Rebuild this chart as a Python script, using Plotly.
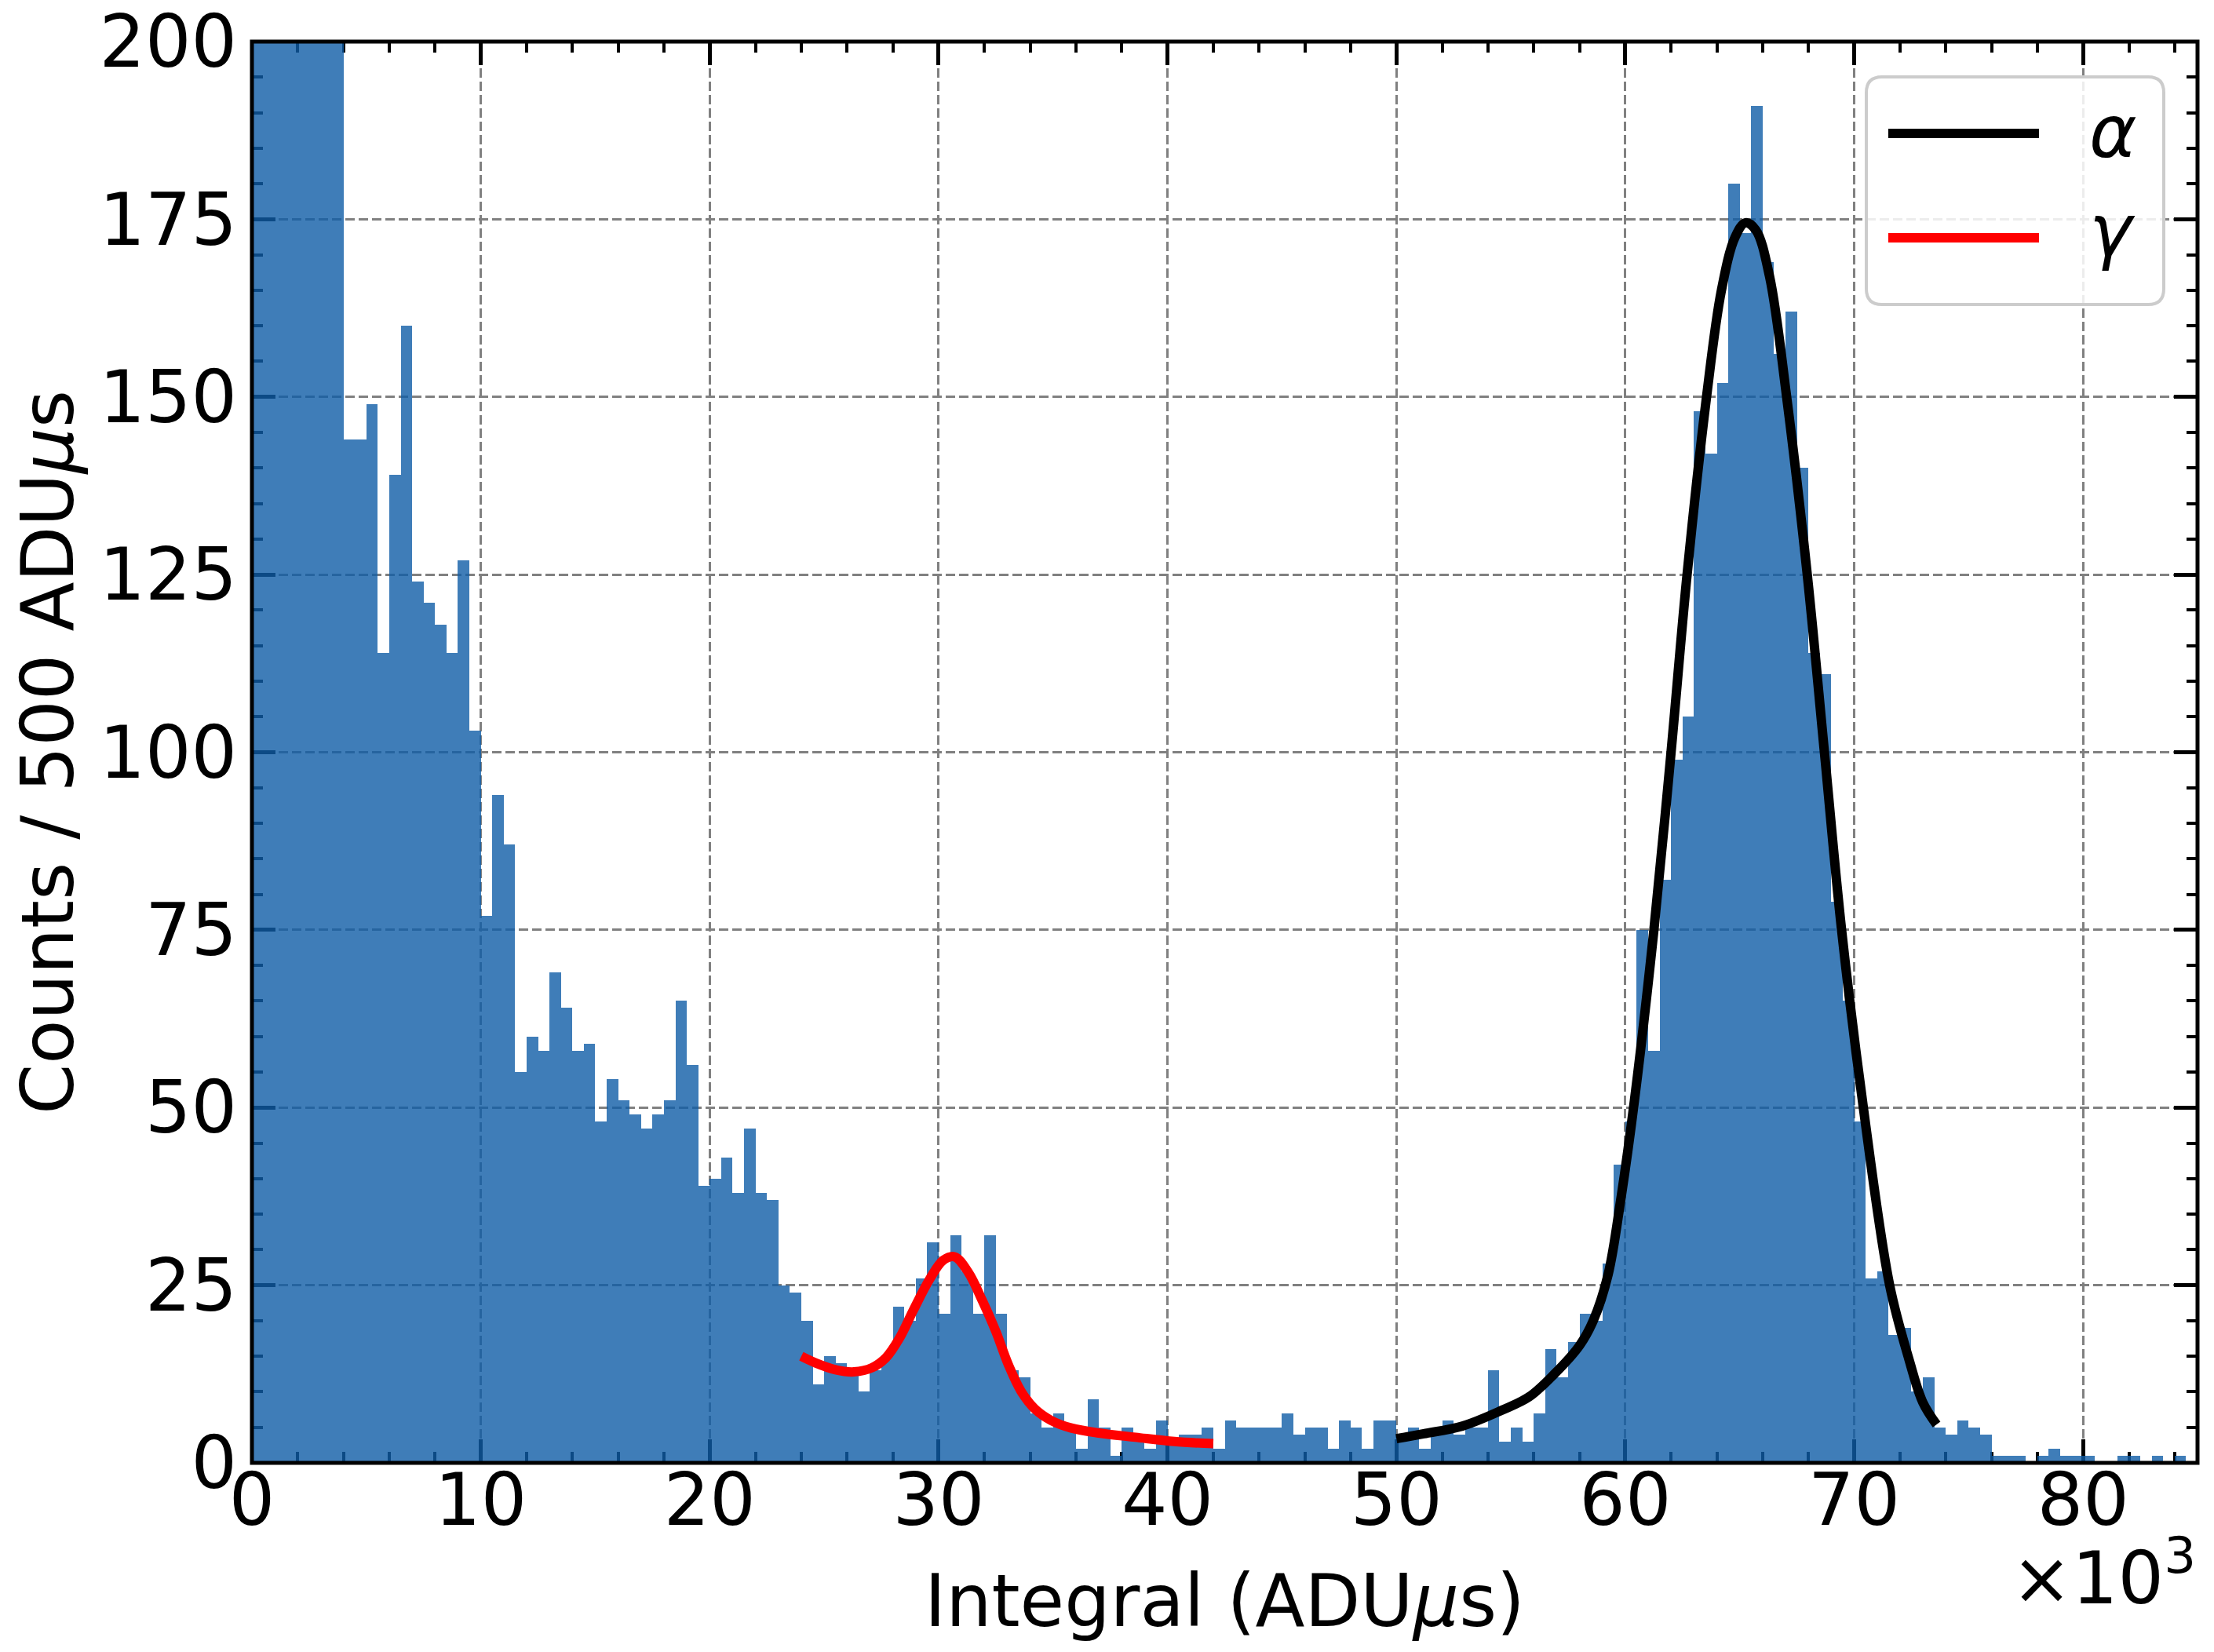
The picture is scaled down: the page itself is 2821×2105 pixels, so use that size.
import plotly.graph_objects as go

# ---------------- data ----------------
bin_width = 500  # ADUus per bin
counts = [
    620, 470, 380, 330, 290, 260, 235, 215,          # 0 - 4k (off scale)
    144, 144, 149, 114, 139, 160, 124, 121, 118, 114, 127, 103,   # 4k - 10k
    77, 94, 87, 55, 60, 58, 69, 64, 58, 59,          # 10k - 15k
    48, 54, 51, 49, 47, 49, 51, 65, 56, 39,          # 15k - 20k
    40, 43, 38, 47, 38, 37, 25, 24, 20, 11,          # 20k - 25k
    15, 14, 13, 10, 13, 15, 22, 20, 26, 31,          # 25k - 30k
    21, 32, 27, 21, 32, 21, 13, 12, 7, 5,            # 30k - 35k
    7, 5, 2, 9, 5, 1, 5, 4, 2, 6,                    # 35k - 40k
    3, 4, 4, 5, 2, 6, 5, 5, 5, 5,                    # 40k - 45k
    7, 4, 5, 5, 2, 6, 5, 2, 6, 6,                    # 45k - 50k
    4, 5, 2, 4, 6, 4, 5, 5, 13, 3,                   # 50k - 55k
    5, 3, 7, 16, 12, 17, 21, 20, 28, 42,             # 55k - 60k
    48, 75, 58, 82, 99, 105, 148, 142, 152, 180,     # 60k - 65k
    173, 191, 169, 156, 162, 140, 114, 111, 79, 65,  # 65k - 70k
    48, 26, 27, 18, 19, 10, 12, 5, 4, 6,             # 70k - 75k
    5, 4, 1, 1, 1, 0, 1, 2, 1, 1,                    # 75k - 80k
    1, 0, 0, 1, 1, 0, 1, 0, 1, 0,                    # 80k - 85k
]
bin_centers = [bin_width * i + bin_width / 2 for i in range(len(counts))]

# gamma fit curve (x in 10^3 ADUus, y in counts)
gamma_x = [24.0, 24.6, 25.5, 26.3, 27.1, 27.7, 28.3, 28.9, 29.6, 30.2, 30.7,
           31.3, 31.9, 32.5, 33.05, 33.6, 34.2, 34.9, 35.8, 37.0, 38.6, 40.3, 42.0]
gamma_y = [15.0, 14.1, 13.1, 12.8, 13.4, 14.8, 17.6, 21.5, 25.8, 28.5, 29.0,
           26.8, 22.9, 18.5, 13.8, 10.1, 7.6, 6.0, 4.9, 4.2, 3.6, 3.0, 2.7]

# alpha fit curve
alpha_x = [50.0, 51.2, 52.9, 54.6, 55.8, 56.9, 58.0, 58.6, 59.25, 59.8, 60.4,
           61.25, 62.0, 62.7, 63.55, 64.2, 64.8, 65.25, 65.7, 66.3, 67.05,
           67.95, 68.7, 69.45, 70.4, 71.55, 72.4, 73.0, 73.6]
alpha_y = [3.4, 4.1, 5.2, 7.4, 9.3, 12.5, 16.5, 20, 26.5, 37, 51,
           75, 100, 125, 150, 165, 172.5, 174.5, 173.5, 167, 150,
           125, 100, 75, 50, 25, 14.5, 8.5, 5.4]

x_tick_vals = [0, 10, 20, 30, 40, 50, 60, 70, 80]          # in 10^3
x_tick_labels = ["0", "10", "20", "30", "40", "50", "60", "70", "80"]
y_tick_vals = [0, 25, 50, 75, 100, 125, 150, 175, 200]

legend_labels = ["<i>α</i>", "<i>γ</i>"]
# ----------------------------------------------------------------

FONT = "DejaVu Sans"
# the page body has an 8px margin: size the figure so it fits the window
W, H = 2813, 2089
ML, MR, MT, MB = 313, 21, 45, 233
PW, PH = W - ML - MR, H - MT - MB
OFF = 8
PLOT_LEFT, PLOT_BOTTOM = OFF + ML, OFF + H - MB   # in window pixels


def px_x(p):
    return (p - PLOT_LEFT) / PW


def px_y(p):
    return (PLOT_BOTTOM - p) / PH


fig = go.Figure()

fig.add_trace(go.Bar(
    x=bin_centers, y=counts, width=bin_width,
    marker=dict(color="rgba(15,92,166,0.80)", line=dict(width=0)),
    showlegend=False, name="data",
))

fig.add_trace(go.Scatter(
    x=[v * 1000 for v in gamma_x], y=gamma_y, mode="lines",
    line=dict(color="#ff0000", width=12, shape="spline", smoothing=1.0),
    showlegend=False, name="γ",
))
fig.add_trace(go.Scatter(
    x=[v * 1000 for v in alpha_x], y=alpha_y, mode="lines",
    line=dict(color="#000000", width=12, shape="spline", smoothing=1.0),
    showlegend=False, name="α",
))

grid = dict(showgrid=True, gridcolor="rgb(128,128,128)", gridwidth=3.3,
            griddash="12px,5px")
common = dict(
    showline=False, zeroline=False, mirror="allticks",
    ticks="inside", ticklen=30, tickwidth=4.5, tickcolor="black",
    layer="below traces", ticklabeloverflow="allow",
    tickfont=dict(family=FONT, size=92, color="black"),
    **grid,
)

fig.update_xaxes(
    range=[0, 85000],
    tickvals=[v * 1000 for v in x_tick_vals], ticktext=x_tick_labels,
    minor=dict(ticks="inside", ticklen=14, tickwidth=4, tickcolor="black",
               dtick=2000, tick0=0, showgrid=False),
    ticklabelstandoff=-14,
    title=dict(text="Integral (ADU<i>μ</i>s)", standoff=43,
               font=dict(family=FONT, size=92, color="black")),
    **common,
)
fig.update_yaxes(
    range=[0, 200],
    tickvals=y_tick_vals,
    minor=dict(ticks="inside", ticklen=14, tickwidth=4, tickcolor="black",
               dtick=5, tick0=0, showgrid=False),
    ticklabelstandoff=18,
    title=dict(text="Counts / 500 ADU<i>μ</i>s", standoff=24,
               font=dict(family=FONT, size=92, color="black")),
    **common,
)

shapes = [
    dict(type="rect", xref="paper", yref="paper", x0=0, y0=0, x1=1, y1=1,
         line=dict(color="black", width=5), layer="above"),
]

# legend box (rounded)
bx0, bx1 = px_x(2378), px_x(2757)
by0, by1 = px_y(388), px_y(98)
rx, ry = 20 / PW, 20 / PH
path = (f"M{bx0 + rx},{by1} L{bx1 - rx},{by1} Q{bx1},{by1} {bx1},{by1 - ry} "
        f"L{bx1},{by0 + ry} Q{bx1},{by0} {bx1 - rx},{by0} "
        f"L{bx0 + rx},{by0} Q{bx0},{by0} {bx0},{by0 + ry} "
        f"L{bx0},{by1 - ry} Q{bx0},{by1} {bx0 + rx},{by1} Z")
shapes.append(dict(type="path", xref="paper", yref="paper", path=path,
                   fillcolor="rgba(255,255,255,0.85)",
                   line=dict(color="rgb(204,204,204)", width=4), layer="above"))
legend_colors = ["black", "#ff0000"]
legend_rows_px = [170, 303]
for col, ypx in zip(legend_colors, legend_rows_px):
    shapes.append(dict(type="line", xref="paper", yref="paper",
                       x0=px_x(2406), x1=px_x(2598), y0=px_y(ypx), y1=px_y(ypx),
                       line=dict(color=col, width=12), layer="above"))

annotations = []
legend_text_px = [168, 295]
for lab, ypx in zip(legend_labels, legend_text_px):
    annotations.append(dict(text=lab, xref="paper", yref="paper",
                            x=px_x(2660), y=px_y(ypx), xanchor="left",
                            yanchor="middle", showarrow=False,
                            font=dict(family=FONT, size=92, color="black")))
annotations.append(dict(text="×10<sup>3</sup>", xref="paper", yref="paper",
                        x=1.0, y=px_y(2004), xanchor="right", yanchor="middle",
                        showarrow=False,
                        font=dict(family=FONT, size=92, color="black")))

fig.update_layout(
    width=W, height=H,
    margin=dict(l=ML, r=MR, t=MT, b=MB, autoexpand=False),
    plot_bgcolor="white", paper_bgcolor="white",
    font=dict(family=FONT, size=92, color="black"),
    barmode="overlay", bargap=0,
    shapes=shapes, annotations=annotations,
    showlegend=False,
)

fig.write_html("out.html")
